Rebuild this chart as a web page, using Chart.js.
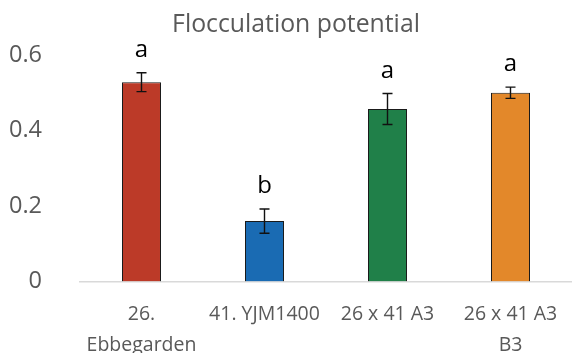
<!DOCTYPE html>
<html>
<head>
<meta charset="utf-8">
<script src="https://cdn.jsdelivr.net/npm/chart.js@4/dist/chart.umd.min.js"></script>
<style>
  html, body { margin: 0; padding: 0; background: #ffffff; }
  #wrap { width: 572px; height: 353px; }
</style>
</head>
<body>
<div id="wrap"><canvas id="chart" width="572" height="353"></canvas></div>
<script>
// Strains (multi-line labels as shown under each bar)
const categories = [
  ['26.', 'Ebbegarden'],
  '41. YJM1400',
  '26 x 41 A3',
  ['26 x 41 A3', 'B3']
];
// Mean flocculation potential per strain
const means = [0.528, 0.160, 0.457, 0.500];
// Standard error shown as error bars
const errors = [0.025, 0.032, 0.041, 0.015];
// Significance group letters
const groups = ['a', 'b', 'a', 'a'];
// Y axis tick values
const yTicks = [0, 0.2, 0.4, 0.6];

const chartTitle = 'Flocculation potential';
const barColors = ['#BC3A28', '#1A6BB3', '#208049', '#E3882A'];
const FONT = '"Open Sans", "Noto Sans", sans-serif';

// Title centred over the area right of the axis labels
const titlePlugin = {
  id: 'centredTitle',
  afterDraw(chart) {
    const ctx = chart.ctx;
    ctx.save();
    ctx.fillStyle = '#595959';
    ctx.font = '24.8px ' + FONT;
    ctx.textAlign = 'center';
    ctx.textBaseline = 'alphabetic';
    ctx.fillText(chartTitle, (20 + chart.width) / 2, 32);
    ctx.restore();
  }
};

// Draws error bars and the group letters above each bar
const errorBarPlugin = {
  id: 'errorBars',
  afterDatasetsDraw(chart) {
    const ctx = chart.ctx;
    const y = chart.scales.y;
    const meta = chart.getDatasetMeta(0);
    ctx.save();
    meta.data.forEach((bar, i) => {
      const x = bar.x;
      const top = y.getPixelForValue(means[i] + errors[i]);
      const bot = y.getPixelForValue(means[i] - errors[i]);
      ctx.strokeStyle = '#111111';
      ctx.lineWidth = 1.4;
      ctx.beginPath();
      ctx.moveTo(x, top); ctx.lineTo(x, bot);
      ctx.moveTo(x - 5, top); ctx.lineTo(x + 5, top);
      ctx.moveTo(x - 5, bot); ctx.lineTo(x + 5, bot);
      ctx.stroke();
      ctx.fillStyle = '#000000';
      ctx.font = '24px ' + FONT;
      ctx.textAlign = 'center';
      ctx.textBaseline = 'alphabetic';
      ctx.fillText(groups[i], x, top - 16);
    });
    ctx.restore();
  }
};

new Chart(document.getElementById('chart'), {
  type: 'bar',
  data: {
    labels: categories,
    datasets: [{
      data: means,
      backgroundColor: barColors,
      borderColor: '#1a1a1a',
      borderWidth: 1,
      categoryPercentage: 1,
      barPercentage: 0.317
    }]
  },
  options: {
    responsive: false,
    animation: false,
    layout: { padding: { left: 0, right: 0, top: 55, bottom: 0 } },
    plugins: {
      legend: { display: false },
      tooltip: { enabled: false },
      title: { display: false }
    },
    scales: {
      x: {
        grid: { display: false },
        border: { display: true, color: '#d9d9d9', width: 1.5 },
        ticks: {
          color: '#595959',
          font: { family: FONT, size: 19.5, lineHeight: 1.59 },
          padding: 9,
          maxRotation: 0,
          autoSkip: false
        },
        afterFit(scale) { scale.height = 71.5; }
      },
      y: {
        min: 0,
        max: 0.6,
        grid: { display: false },
        border: { display: false },
        afterBuildTicks(scale) { scale.ticks = yTicks.map(v => ({ value: v })); },
        ticks: {
          color: '#595959',
          font: { family: FONT, size: 23.5 },
          padding: 30,
          callback: v => String(Math.round(v * 10) / 10)
        },
        afterFit(scale) { scale.width = 80; }
      }
    }
  },
  plugins: [errorBarPlugin, titlePlugin]
});
</script>
</body>
</html>
